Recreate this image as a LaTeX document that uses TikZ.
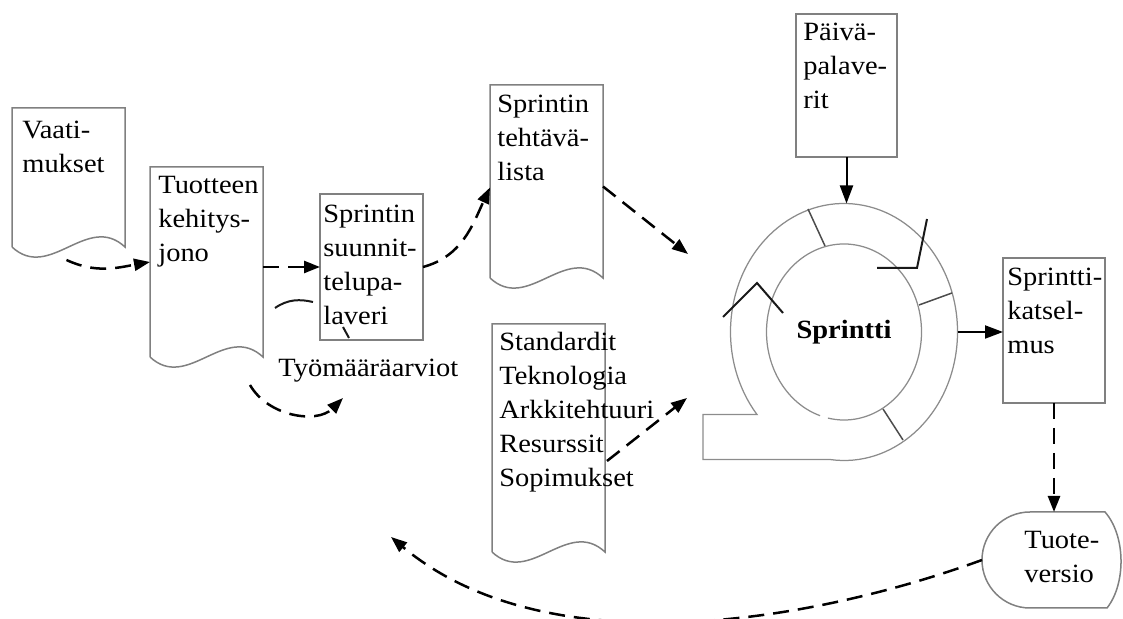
\documentclass[tikz,border=0pt]{standalone}
\usepackage{fontspec}
\setmainfont{Liberation Serif}[FakeStretch=1.08]
\usetikzlibrary{arrows.meta,calc}

% page outline with a wavy lower edge, drawn round a named node
\newcommand{\docwave}[1]{%
  \draw[docline] (#1.south west) -- (#1.north west) -- (#1.north east) -- (#1.south east)
    .. controls ($(#1.south east)!0.333!(#1.south west)+(0,35)$)
    and ($(#1.south east)!0.667!(#1.south west)+(0,-35)$) .. (#1.south west);}

\begin{document}
\begin{tikzpicture}[x=0.2mm,y=0.2mm,
  doc/.style={rectangle,inner sep=0pt,outer sep=0pt},
  box/.style={doc,draw=black!50,line width=0.3mm},
  docline/.style={draw=black!50,line width=0.3mm},
  lbl/.style={anchor=base west,align=left,inner sep=0pt,font=\fontsize{15}{19.4}\selectfont},
  flow/.style={line width=0.5mm,dash pattern=on 3.2mm off 1.8mm,-{Triangle[length=3.2mm,width=2.4mm]}},
  feed/.style={line width=0.4mm,-{Triangle[length=3.6mm,width=2.6mm]}},
  ring/.style={draw=black!45,line width=0.25mm},
  spoke/.style={draw=black!70,line width=0.3mm},
  tick/.style={black!90,line width=0.4mm}]
\useasboundingbox (0,0) rectangle (1123,619);

% documents and boxes
\node[doc,minimum width=113*0.2mm,minimum height=139*0.2mm] (vaat) at (68.5,441.5) {};
\node[doc,minimum width=113*0.2mm,minimum height=190*0.2mm] (kehi) at (206.5,357) {};
\node[box,minimum width=103*0.2mm,minimum height=146*0.2mm] (suun) at (371.5,352) {};
\node[doc,minimum width=113*0.2mm,minimum height=193*0.2mm] (teht) at (546.5,437.5) {};
\node[doc,minimum width=113*0.2mm,minimum height=228*0.2mm] (stan) at (548.5,181) {};
\node[box,minimum width=101*0.2mm,minimum height=143*0.2mm] (paiv) at (846.5,533.5) {};
\node[box,minimum width=102*0.2mm,minimum height=145*0.2mm] (katsel) at (1054,288.5) {};
\node[doc,minimum width=140*0.2mm,minimum height=96*0.2mm] (tuot) at (1052,59) {};
\docwave{vaat}
\docwave{kehi}
\docwave{teht}
\docwave{stan}
\draw[docline] ($(tuot.north west)+(48,0)$) arc[start angle=90,end angle=270,x radius=48,y radius=48]
  -- ($(tuot.south east)+(-15,0)$) .. controls ($(tuot.south east)+(4,24)$) and ($(tuot.north east)+(4,-24)$) .. ($(tuot.north east)+(-17,0)$) -- cycle;

% texts (anchored at the baseline of their last line)
\node[lbl] (vaatt) at ($(vaat.north west)+(10,-64.2)$) {Vaati-\\mukset};
\node[lbl] (kehit) at ($(kehi.north west)+(8,-94.4)$) {Tuotteen\\kehitys-\\jono};
\node[lbl] (suunt) at ($(suun.north west)+(3,-130.7)$) {Sprintin\\suunnit-\\telupa-\\laveri};
\node[lbl] (tehtt) at ($(teht.north west)+(7,-95.4)$) {Sprintin\\tehtävä-\\lista};
\node[lbl] (stant) at ($(stan.north west)+(7,-162.9)$) {Standardit\\Teknologia\\Arkkitehtuuri\\Resurssit\\Sopimukset};
\node[lbl] (paivt) at ($(paiv.north west)+(7,-94.4)$) {Päivä-\\palave-\\rit};
\node[lbl] (katselt) at ($(katsel.north west)+(4,-95.4)$) {Sprintti-\\katsel-\\mus};
\node[lbl] (tuott) at ($(tuot.north west)+(42,-70.2)$) {Tuote-\\versio};
\node[lbl] (arvi) at (278,242) {Työmääräarviot};

% sprint wheel
\node[font=\fontsize{15}{19.4}\selectfont\bfseries] (spr) at (844,287) {Sprintti};
\draw[ring] (spr.center) ++(-97:113.5 and 128.5) arc[start angle=-97,end angle=220,x radius=113.5,y radius=128.5]
  -- ++(-54,0) -- ++(0,-45) -- cycle;
\draw[ring] (spr.center) ++(258:77.5 and 88) arc[start angle=258,end angle=612,x radius=77.5,y radius=88];
\draw[spoke] (808,410) -- (825,373);
\draw[spoke] (919,314) -- (952,326);
\draw[spoke] (883,210) -- (903,179);
\draw[tick] (723,302) -- (757,336) -- (783,306);
\draw[tick] (877,351) -- (917,351) -- (927,400);
\draw[tick] (275,311) .. controls (288,320) and (300,320) .. (313,317);
\draw[tick] (343,292) -- (349,281);

\coordinate (top) at ($(spr)+(0,128.5)$);
\coordinate (rgt) at ($(spr)+(113.5,0)$);
\coordinate (in1) at (688,365);
\coordinate (in2) at (687,221);
\coordinate (back) at (391,82);

% connectors
\draw[flow] ($(vaat.south)+(-2,-13)$) to[out=-25,in=190] (kehi.west);
\draw[flow] (kehi.east |- suun.west) -- (suun.west);
\draw[flow] ($(kehi.south east)+(-13,-28)$) to[out=-60,in=225] ($(arvi.base west)+(65,-21)$);
\draw[flow] (suun.east) to[out=15,in=245] ($(teht.west)+(0,-6)$);
\draw[flow] ($(teht.east)+(0,-5)$) -- (in1);
\draw[flow] ($(stan.east)+(2,-23)$) -- (in2);
\draw[feed] (paiv.south) -- (paiv.south |- top);
\draw[feed] (rgt) -- (rgt -| katsel.west);
\draw[flow] (katsel.south) -- (katsel.south |- tuot.north);
\draw[flow] (tuot.west) to[out=200,in=-40,looseness=0.85] (back);
\end{tikzpicture}
\end{document}
